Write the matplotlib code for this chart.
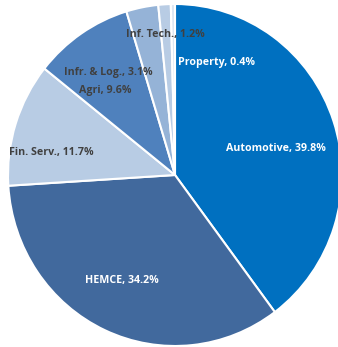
import matplotlib
matplotlib.use("Agg")
import matplotlib.pyplot as plt

categories = ["Automotive", "HEMCE", "Fin. Serv.", "Agri", "Infr. & Log.", "Inf. Tech.", "Property"]
shares = [39.8, 34.2, 11.7, 9.6, 3.1, 1.2, 0.4]
colors = ["#0070C0", "#41699D", "#B8CCE4", "#4F81BD", "#95B3D7", "#B8CCE4", "#DCE6F2"]
label_colors = ["white", "white", "#404040", "#404040", "#404040", "#404040", "white"]
# label anchor positions in pixels (x, y from top)
label_pos = [(276, 149), (122, 281), (51, 153), (105, 91), (108, 73), (165, 35), (216, 62)]

W, H = 338, 347
RX, RY = 167, 171          # horizontal / vertical pixel radii
CX, CY = 175, 175          # pixel centre (y from top)
sy = RX / RY               # data units per vertical pixel

fig = plt.figure(figsize=(W / 100, H / 100), dpi=100)
ax = fig.add_axes([0, 0, 1, 1])

ax.pie(shares, colors=colors, startangle=90, counterclock=False,
       center=(CX, (H - CY) * sy), radius=RX, frame=True,
       wedgeprops=dict(edgecolor="white", linewidth=1.5))
ax.set_aspect("auto")
ax.set_xlim(0, W)
ax.set_ylim(0, H * sy)
ax.axis("off")

for cat, val, col, (px, py) in zip(categories, shares, label_colors, label_pos):
    ax.text(px, (H - py) * sy, f"{cat}, {val}%", color=col, fontsize=7.7,
            fontweight="bold", family="Open Sans", ha="center", va="center")

fig.savefig("out.png", dpi=100)
